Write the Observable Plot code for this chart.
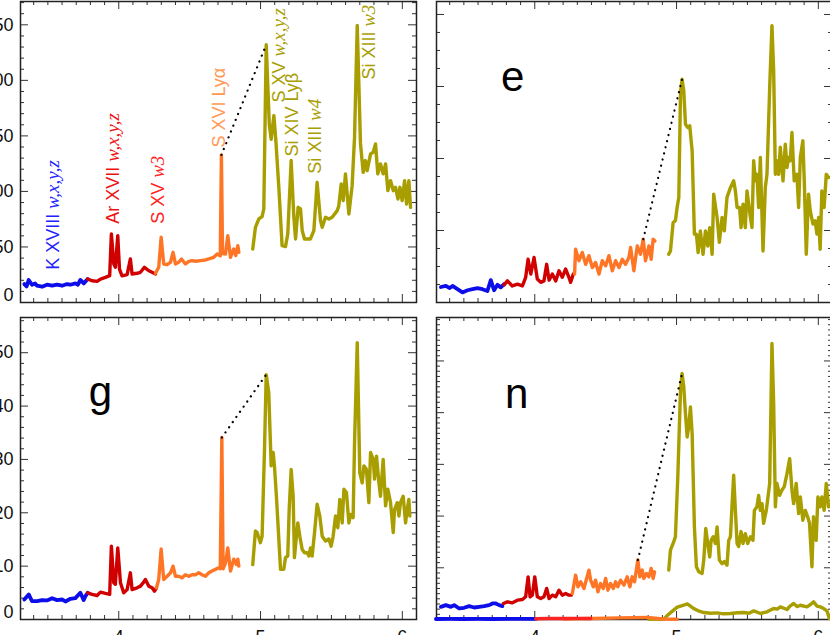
<!DOCTYPE html>
<html><head><meta charset="utf-8">
<script src="https://cdn.jsdelivr.net/npm/d3@7"></script>
<script src="https://cdn.jsdelivr.net/npm/@observablehq/plot@0.6"></script>
<style>
html,body{margin:0;padding:0;background:#fff;}
#wrap{position:relative;width:830px;height:635px;overflow:hidden;background:#fff;}
</style></head><body><div id="wrap"></div>
<script>
// ---------- colours ----------
const BLUE = "#0d0dea", RED = "#d10000", ORANGE = "#ff7526", OLIVE = "#a89e00", RED2 = "#ff2424";

// ---------- tick labels ----------
const xTickLabels = [4, 5, 6];
const yTicksA = [0, 50, 100, 150, 200, 250];
const yTicksE = [0, 20, 40, 60, 80];
const yTicksG = [0, 10, 20, 30, 40, 50];
const yTicksN = [0, 10, 20, 30, 40, 50];

// ---------- panel a (top left) ----------
const aBlue = [[3.334,16.6],[3.350,14.5],[3.365,20.3],[3.388,16.0],[3.410,17.2],[3.424,15.1],[3.459,14.2],[3.494,16.0],[3.530,15.1],[3.565,16.0],[3.600,15.1],[3.635,16.6],[3.659,16.0],[3.694,17.2],[3.712,16.0],[3.729,20.3],[3.753,17.2],[3.781,21.1]];
const aRed = [[3.781,21.1],[3.812,19.6],[3.847,19.0],[3.871,21.1],[3.906,22.6],[3.936,24.2],[3.948,61.7],[3.965,34.7],[3.976,31.7],[3.993,60.2],[4.005,30.0],[4.023,24.0],[4.059,25.1],[4.082,39.2],[4.094,25.7],[4.129,26.3],[4.153,27.2],[4.181,31.7],[4.212,28.6],[4.235,27.2],[4.259,25.7]];
const aOrange = [[4.259,26.3],[4.282,31.7],[4.299,58.7],[4.317,34.7],[4.341,34.1],[4.365,36.2],[4.383,45.2],[4.400,34.7],[4.423,36.2],[4.442,39.2],[4.470,34.7],[4.494,37.1],[4.517,37.7],[4.541,37.1],[4.576,37.7],[4.611,38.3],[4.635,39.2],[4.670,40.7],[4.694,43.7],[4.716,42.0],[4.724,132.9],[4.732,44.0],[4.753,43.7],[4.769,60.2],[4.788,40.7],[4.811,48.2],[4.825,42.2],[4.840,51.2],[4.847,45.2]];
const aOlive = [[4.945,48.2],[4.964,67.7],[4.988,75.2],[5.011,77.3],[5.023,84.2],[5.040,232.0],[5.062,160.0],[5.075,147.0],[5.094,168.3],[5.108,145.8],[5.129,103.7],[5.152,51.2],[5.176,50.3],[5.192,61.7],[5.216,127.8],[5.235,76.7],[5.247,57.2],[5.265,85.7],[5.282,84.2],[5.294,64.7],[5.310,57.2],[5.352,57.2],[5.376,64.7],[5.399,108.2],[5.423,73.7],[5.435,67.7],[5.458,76.7],[5.482,75.2],[5.505,76.7],[5.541,82.7],[5.552,87.2],[5.569,106.7],[5.583,91.7],[5.599,115.8],[5.623,79.7],[5.646,105.2],[5.663,148.8],[5.682,249.4],[5.705,142.8],[5.724,117.2],[5.740,127.8],[5.752,118.7],[5.776,133.8],[5.795,135.3],[5.811,142.8],[5.827,115.8],[5.846,124.8],[5.865,115.8],[5.882,124.8],[5.898,100.7],[5.917,109.7],[5.936,100.7],[5.952,103.7],[5.969,93.2],[5.983,103.7],[5.999,91.7],[6.016,109.7],[6.030,88.7],[6.046,109.7],[6.058,85.7]];
const aDotted = [[4.724,132.9],[5.040,232.0]];

// line identifications in panel a
const lineLabels = ["K XVIII", "Ar XVII", "S XV", "S XVI Lyα", "S XV", "Si XIV Lyβ", "Si XIII", "Si XIII"];
const lineMath   = ["w,x,y,z", "w,x,y,z", "w3", "", "w,x,y,z", "", "w4", "w3"];
const lineWave   = [3.539, 3.962, 4.280, 4.710, 5.134, 5.226, 5.388, 5.769];
const lineLevel  = [29.5, 71, 71, 139.5, 180, 131.4, 116, 200.7];
const lineColor  = ["#2222ff", "#ee1111", "#ff2222", "#ff9955", OLIVE, OLIVE, OLIVE, OLIVE];

// ---------- panel e (top right) ----------
const eBlue = [[3.338,4.3],[3.373,4.6],[3.400,4.0],[3.420,4.6],[3.455,3.7],[3.490,2.8],[3.526,3.4],[3.561,3.7],[3.596,4.0],[3.631,3.7],[3.666,3.2],[3.690,6.2],[3.713,3.4],[3.737,4.9],[3.760,4.2],[3.784,5.1]];
const eRed = [[3.784,4.9],[3.807,6.0],[3.842,4.6],[3.878,5.1],[3.913,4.6],[3.936,7.0],[3.953,12.0],[3.972,7.9],[3.995,12.5],[4.018,6.5],[4.042,5.6],[4.065,6.0],[4.084,10.6],[4.101,6.2],[4.124,7.9],[4.148,6.0],[4.171,8.8],[4.194,7.0],[4.218,9.3],[4.241,7.0],[4.253,5.6],[4.272,7.9]];
const eOrange = [[4.281,7.9],[4.288,14.8],[4.312,11.6],[4.335,13.9],[4.359,10.6],[4.382,13.0],[4.406,9.7],[4.429,11.1],[4.453,7.9],[4.476,11.6],[4.500,10.2],[4.523,13.0],[4.547,8.8],[4.570,11.6],[4.594,9.7],[4.617,12.0],[4.640,10.6],[4.664,12.5],[4.676,15.3],[4.699,8.8],[4.723,15.7],[4.746,13.4],[4.765,17.6],[4.781,11.6],[4.805,15.7],[4.821,12.0],[4.835,17.6],[4.847,17.1]];
const eOlive = [[4.945,13.4],[4.957,14.3],[4.976,22.2],[4.992,22.7],[5.004,26.4],[5.016,29.2],[5.028,58.3],[5.039,62.0],[5.051,58.8],[5.063,49.5],[5.079,48.6],[5.093,49.1],[5.110,42.1],[5.126,19.0],[5.140,19.0],[5.152,13.9],[5.168,19.9],[5.187,13.4],[5.204,19.9],[5.220,15.7],[5.234,20.8],[5.251,13.4],[5.262,30.1],[5.286,23.6],[5.302,16.7],[5.321,23.6],[5.337,19.9],[5.356,29.2],[5.380,31.9],[5.403,33.8],[5.415,31.0],[5.427,26.4],[5.445,26.4],[5.455,20.8],[5.469,27.3],[5.485,20.8],[5.497,31.0],[5.521,23.6],[5.532,20.8],[5.544,39.4],[5.556,33.8],[5.567,35.6],[5.579,26.4],[5.591,40.3],[5.610,14.3],[5.626,31.9],[5.638,35.6],[5.657,59.7],[5.673,76.9],[5.685,64.4],[5.697,35.6],[5.708,39.4],[5.720,35.6],[5.732,43.1],[5.751,33.8],[5.767,44.0],[5.779,37.5],[5.790,40.3],[5.802,39.4],[5.814,47.2],[5.830,33.8],[5.849,35.6],[5.861,26.4],[5.873,40.3],[5.891,44.9],[5.901,33.8],[5.915,13.4],[5.931,30.1],[5.943,25.5],[5.962,21.8],[5.978,22.7],[5.990,19.0],[6.002,23.6],[6.013,14.8],[6.025,31.0],[6.041,26.4],[6.056,35.6],[6.072,34.7]];
const eDotted = [[4.765,17.6],[5.039,62.0]];

// ---------- panel g (bottom left) ----------
const gBlue = [[3.334,3.75],[3.365,4.7],[3.388,3.44],[3.424,3.44],[3.459,3.63],[3.494,3.57],[3.530,4.0],[3.565,3.63],[3.600,3.75],[3.624,3.38],[3.659,3.88],[3.694,4.0],[3.729,5.0],[3.753,3.63],[3.765,4.38],[3.781,5.0]];
const gRed = [[3.781,5.0],[3.812,4.7],[3.847,4.5],[3.871,5.13],[3.906,4.88],[3.936,4.7],[3.948,13.75],[3.965,6.88],[3.976,6.6],[3.993,13.4],[4.012,6.88],[4.035,5.0],[4.059,5.6],[4.082,8.75],[4.094,5.6],[4.129,5.94],[4.153,6.25],[4.176,7.0],[4.188,7.5],[4.212,6.25],[4.235,5.94],[4.252,5.3],[4.266,5.94]];
const gOrange = [[4.266,5.94],[4.282,7.5],[4.299,13.2],[4.317,7.5],[4.341,8.1],[4.365,8.75],[4.383,10.0],[4.400,8.1],[4.423,8.1],[4.447,7.8],[4.470,8.4],[4.494,8.1],[4.517,8.4],[4.541,8.4],[4.564,8.75],[4.588,8.4],[4.611,8.1],[4.635,8.75],[4.658,9.1],[4.682,9.4],[4.705,9.7],[4.716,9.5],[4.727,34.1],[4.736,9.5],[4.753,10.6],[4.769,13.4],[4.788,9.1],[4.811,11.3],[4.830,10.3],[4.840,11.3],[4.847,10.0]];
const gOlive = [[4.945,10.3],[4.964,16.6],[4.976,16.3],[4.999,14.4],[5.011,15.6],[5.028,31.9],[5.040,45.9],[5.058,42.5],[5.075,28.8],[5.089,31.3],[5.098,28.8],[5.112,23.1],[5.141,9.4],[5.164,9.4],[5.176,11.6],[5.192,11.9],[5.202,20.6],[5.216,28.1],[5.230,23.1],[5.239,11.6],[5.251,15.0],[5.263,18.1],[5.277,15.6],[5.294,13.1],[5.310,12.5],[5.329,12.5],[5.341,11.9],[5.352,13.4],[5.364,11.9],[5.381,16.3],[5.399,21.6],[5.418,19.4],[5.435,15.6],[5.458,14.7],[5.482,15.1],[5.498,13.75],[5.512,15.6],[5.529,19.4],[5.545,17.2],[5.559,22.5],[5.576,18.1],[5.588,24.4],[5.606,23.8],[5.623,18.1],[5.635,19.7],[5.653,19.1],[5.663,33.1],[5.682,51.9],[5.700,27.5],[5.717,25.6],[5.729,28.8],[5.747,28.1],[5.764,21.9],[5.776,31.3],[5.795,30.0],[5.804,26.3],[5.818,30.6],[5.835,25.6],[5.846,23.1],[5.865,30.0],[5.882,21.3],[5.898,24.4],[5.917,21.9],[5.936,16.3],[5.945,20.6],[5.964,21.9],[5.976,19.4],[5.987,21.9],[6.006,23.1],[6.023,18.1],[6.034,20.6],[6.046,22.5],[6.053,19.4]];
const gDotted = [[4.727,34.1],[5.040,45.9]];

// ---------- panel n (bottom right) ----------
const nBlue = [[3.338,2.45],[3.373,2.77],[3.408,2.45],[3.432,2.77],[3.467,2.13],[3.502,2.26],[3.537,2.58],[3.573,2.32],[3.608,2.45],[3.643,2.58],[3.678,2.77],[3.702,3.10],[3.725,3.10],[3.749,2.77],[3.772,2.58]];
const nRed = [[3.779,3.10],[3.807,3.42],[3.842,3.23],[3.878,3.74],[3.913,3.87],[3.936,4.39],[3.953,8.25],[3.967,4.39],[3.983,4.71],[4.000,8.25],[4.018,4.39],[4.042,4.06],[4.065,4.39],[4.084,6.0],[4.101,4.06],[4.124,4.71],[4.148,4.39],[4.171,5.67],[4.194,4.71],[4.218,5.03],[4.241,4.71],[4.258,4.71]];
const nOrange = [[4.265,5.03],[4.288,8.58],[4.305,6.32],[4.324,7.29],[4.347,6.0],[4.366,7.93],[4.382,9.55],[4.394,7.61],[4.413,6.32],[4.429,7.61],[4.446,5.35],[4.464,6.96],[4.483,6.0],[4.500,7.93],[4.516,5.67],[4.535,6.96],[4.554,6.0],[4.570,7.29],[4.586,6.32],[4.605,7.61],[4.629,6.65],[4.652,8.25],[4.671,6.32],[4.687,8.25],[4.704,7.29],[4.727,11.5],[4.741,8.25],[4.758,9.55],[4.769,7.93],[4.788,8.9],[4.805,8.25],[4.821,9.86],[4.835,7.93],[4.845,9.22]];
const nOlive = [[4.945,9.55],[4.957,13.4],[4.976,14.7],[4.992,16.0],[5.009,27.6],[5.028,44.4],[5.039,47.6],[5.051,45.0],[5.063,39.8],[5.075,35.3],[5.086,37.3],[5.098,41.1],[5.110,36.0],[5.126,17.9],[5.140,10.2],[5.157,9.22],[5.180,8.9],[5.192,11.5],[5.206,17.6],[5.220,14.7],[5.234,12.1],[5.244,15.3],[5.258,16.0],[5.274,14.7],[5.286,17.9],[5.302,11.5],[5.321,10.8],[5.337,11.2],[5.356,10.5],[5.368,15.3],[5.380,16.0],[5.391,21.8],[5.403,27.9],[5.415,21.1],[5.427,14.7],[5.438,14.1],[5.455,17.0],[5.469,14.7],[5.485,16.6],[5.502,14.7],[5.521,16.0],[5.539,15.3],[5.549,21.1],[5.567,21.8],[5.579,24.0],[5.591,21.1],[5.603,22.4],[5.614,18.6],[5.633,21.1],[5.645,23.7],[5.657,26.3],[5.673,53.4],[5.685,41.8],[5.697,21.8],[5.708,26.3],[5.727,24.0],[5.743,25.0],[5.760,25.7],[5.779,28.2],[5.798,31.1],[5.814,25.0],[5.826,22.4],[5.844,26.3],[5.861,20.5],[5.873,23.7],[5.891,19.2],[5.908,21.1],[5.924,19.9],[5.938,18.6],[5.955,10.2],[5.966,19.9],[5.985,15.3],[5.997,23.7],[6.013,21.8],[6.025,23.7],[6.041,21.1],[6.056,26.3],[6.072,21.8]];
const nDotted = [[4.727,11.5],[5.039,47.6]];
const nLowBlue = [[3.303,0.10],[3.400,0.12],[3.500,0.10],[3.600,0.12],[3.700,0.10],[3.850,0.14],[4.007,0.12]];
const nLowRed = [[4.007,0.15],[4.100,0.18],[4.200,0.20],[4.300,0.22],[4.395,0.20]];
const nLowOrange = [[4.207,0.10],[4.400,0.20],[4.600,0.32],[4.794,0.40],[4.850,0.25],[4.900,0.10],[5.005,0.05]];
const nLowOlive = [[4.805,0.02],[4.911,0.10],[4.939,0.9],[5.005,2.4],[5.040,2.7],[5.076,3.0],[5.122,2.1],[5.160,1.6],[5.192,1.35],[5.240,1.2],[5.287,1.29],[5.330,1.1],[5.381,1.16],[5.430,1.3],[5.474,1.35],[5.510,1.2],[5.545,1.67],[5.592,1.16],[5.639,1.48],[5.685,2.12],[5.710,2.0],[5.732,2.44],[5.779,1.93],[5.800,2.6],[5.826,3.09],[5.850,2.5],[5.873,2.76],[5.920,2.44],[5.945,2.9],[5.967,3.41],[5.990,2.6],[6.014,2.44],[6.038,2.12],[6.061,1.67],[6.077,0.19]];

// ---------- drawing ----------
const xDomain = [3.307, 6.1];
const xMinor = d3.range(34, 61).map(d => d / 10).filter(d => !xTickLabels.includes(d));
const TICK = "#333";
const FW = 396;

function spectrum(data, color) {
  return Plot.line(data, {x: d => d[0], y: d => d[1], stroke: color, strokeWidth: color === BLUE ? 3.8 : 3.4, strokeLinejoin: "round", strokeLinecap: "round"});
}
function dotted(data) {
  return Plot.line(data, {x: d => d[0], y: d => d[1], stroke: "#000", strokeWidth: 2.2, strokeDasharray: "0.1,6.2", strokeLinecap: "round"});
}

function panel(cfg) {
  const fh = cfg.fh;
  const yMinor = d3.range(0, cfg.yMax, cfg.minorStep).filter(v => !cfg.yMajor.some(m => Math.abs(m - v) < 1e-9));
  const marks = [
    Plot.tickX(xMinor, {x: d => d, insetTop: fh - 4, stroke: TICK}),
    Plot.tickX(xMinor, {x: d => d, insetBottom: fh - 4, stroke: TICK}),
    Plot.tickX(xTickLabels, {x: d => d, insetTop: fh - 8, stroke: TICK}),
    Plot.tickX(xTickLabels, {x: d => d, insetBottom: fh - 8, stroke: TICK}),
    Plot.tickY(yMinor, {y: d => d, insetRight: FW - 4, stroke: TICK}),
    Plot.tickY(yMinor, {y: d => d, insetLeft: FW - 4, stroke: TICK}),
    Plot.tickY(cfg.yMajor, {y: d => d, insetRight: FW - 8, stroke: TICK}),
    Plot.tickY(cfg.yMajor, {y: d => d, insetLeft: FW - 8, stroke: TICK}),
    Plot.frame({stroke: "#222", strokeWidth: 1.5})
  ];
  if (cfg.yLabels) {
    marks.push(Plot.axisY({ticks: cfg.yMajor.filter(v => v > 0), tickSize: 0, tickPadding: 7, tickFormat: d => String(d), label: null}));
    marks.push(Plot.axisY({ticks: [0], tickSize: 0, tickPadding: 7, dy: -7, tickFormat: d => String(d), label: null}));
  }
  if (cfg.xLabels) {
    marks.push(Plot.axisX({ticks: xTickLabels, tickSize: 0, tickPadding: 11, tickFormat: d => String(d), label: null}));
  }
  for (const [d, c] of cfg.segments) marks.push(spectrum(d, c));
  marks.push(dotted(cfg.dotted));
  if (cfg.extra) marks.push(...cfg.extra);
  if (cfg.letter) {
    marks.push(Plot.text([cfg.letter], {x: cfg.letterX, y: cfg.letterY, text: d => d, fontSize: 42, lineAnchor: "bottom", fill: "#000"}));
  }
  const svg = Plot.plot({
    width: FW + 60, height: fh + 40,
    marginLeft: 40, marginRight: 20, marginTop: 10, marginBottom: 30,
    x: {domain: xDomain, axis: cfg.xLabels ? undefined : null},
    y: {domain: [0, cfg.yMax], axis: cfg.yLabels ? undefined : null},
    style: {fontFamily: "'Liberation Sans', Arial, sans-serif", fontSize: "18px", background: "transparent", color: "#111"},
    marks
  });
  svg.style.position = "absolute";
  svg.style.left = cfg.left + "px";
  svg.style.top = cfg.top + "px";
  svg.style.maxWidth = "none";
  return svg;
}

const annotations = lineLabels.map((label, i) => ({label, math: lineMath[i], x: lineWave[i], y: lineLevel[i], color: lineColor[i]}));

const wrap = document.getElementById("wrap");

const pa = panel({
  fh: 301, yMax: 271, yMajor: yTicksA, minorStep: 10, yLabels: true, xLabels: false,
  left: -20, top: -9,
  segments: [[aBlue, BLUE], [aRed, RED], [aOrange, ORANGE], [aOlive, OLIVE]],
  dotted: aDotted,
  extra: [Plot.text(annotations, {x: "x", y: "y", text: "label", fill: "color", rotate: -90, textAnchor: "start", fontSize: 18})]
});
const pe = panel({
  fh: 301, yMax: 83.6, yMajor: yTicksE, minorStep: 5, yLabels: false, xLabels: false,
  left: 396, top: -9,
  segments: [[eBlue, BLUE], [eRed, RED], [eOrange, ORANGE], [eOlive, OLIVE]],
  dotted: eDotted,
  letter: "e", letterX: 3.845, letterY: 58.8
});
const pg = panel({
  fh: 302, yMax: 56.6, yMajor: yTicksG, minorStep: 2, yLabels: true, xLabels: true,
  left: -20, top: 307,
  segments: [[gBlue, BLUE], [gRed, RED], [gOrange, ORANGE], [gOlive, OLIVE]],
  dotted: gDotted,
  letter: "g", letterX: 3.871, letterY: 40.0
});
const pn = panel({
  fh: 302, yMax: 58.4, yMajor: yTicksN, minorStep: 1, yLabels: false, xLabels: true,
  left: 396, top: 307,
  segments: [[nBlue, BLUE], [nRed, RED], [nOrange, ORANGE], [nOlive, OLIVE],
             [nLowOlive, OLIVE], [nLowBlue, BLUE], [nLowOrange, ORANGE], [nLowRed, RED2]],
  dotted: nDotted,
  letter: "n", letterX: 3.873, letterY: 40.9
});
wrap.append(pa, pe, pg, pn);

// italic math parts of the line identifications (appended to the matching text elements, in data order)
const texts = Array.from(pa.querySelectorAll("text"));
let k = 0;
for (const t of texts) {
  if (k >= annotations.length) break;
  if (t.textContent === annotations[k].label) {
    t.setAttribute("xml:space", "preserve");
    t.style.whiteSpace = "pre";
    const m = annotations[k].math;
    if (m) {
      const ts = document.createElementNS("http://www.w3.org/2000/svg", "tspan");
      ts.setAttribute("font-family", "'Liberation Serif', 'Times New Roman', serif");
      ts.setAttribute("font-style", "italic");
      ts.setAttribute("font-size", "19");
      ts.textContent = " " + m;
      t.appendChild(ts);
    }
    k++;
  }
}
</script>
</body></html>
